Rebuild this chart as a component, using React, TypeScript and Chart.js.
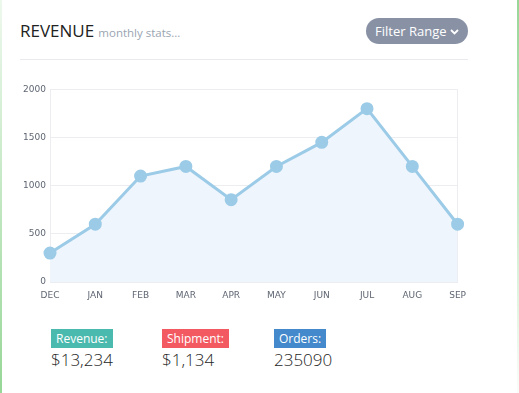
import React, { useEffect, useRef } from "react";
import { Chart, registerables } from "chart.js";

Chart.register(...registerables);

const months = ["DEC", "JAN", "FEB", "MAR", "APR", "MAY", "JUN", "JUL", "AUG", "SEP"];
const revenue = [300, 600, 1100, 1200, 855, 1200, 1450, 1800, 1200, 600];
const yTicks = [0, 500, 1000, 1500, 2000];
const statLabels = ["Revenue:", "Shipment:", "Orders:"];
const statValues = ["$13,234", "$1,134", "235090"];
const statColors = ["#4ab9ae", "#f35961", "#4389cb"];

const FONT = "'Open Sans', 'DejaVu Sans', sans-serif";
const TICK_FONT = "'DejaVu Sans', sans-serif";

function RevenueChart() {
  const ref = useRef<HTMLCanvasElement | null>(null);
  useEffect(() => {
    if (!ref.current) return;
    const chart = new Chart(ref.current, {
      type: "line",
      data: {
        labels: months,
        datasets: [
          {
            data: revenue,
            borderColor: "#9ccbe7",
            backgroundColor: "#eef5fd",
            pointBackgroundColor: "#9ccbe7",
            pointBorderColor: "#9ccbe7",
            pointRadius: 5,
            borderWidth: 3,
            fill: true,
            tension: 0,
          },
        ],
      },
      options: {
        animation: false,
        responsive: false,
        maintainAspectRatio: false,
        layout: { padding: { top: 2, right: 9, left: 0, bottom: 0 } },
        plugins: { legend: { display: false }, tooltip: { enabled: false } },
        scales: {
          x: {
            offset: false,
            grid: {
              color: (ctx: any) =>
                ctx.index === 0 || ctx.index === months.length - 1 ? "#ebedf0" : "rgba(0,0,0,0)",
              drawTicks: false,
            },
            border: { display: true, color: "#ebedf0" },
            ticks: {
              font: { family: TICK_FONT, size: 9 },
              color: "#5f6672",
              padding: 8,
              maxRotation: 0,
              autoSkip: false,
            },
            afterFit: (s: any) => {
              s.height = 20;
            },
          },
          y: {
            min: 0,
            max: 2000,
            afterBuildTicks: (s: any) => {
              s.ticks = yTicks.map((v) => ({ value: v }));
            },
            grid: { color: "#ebedf0", drawTicks: false },
            border: { display: true, color: "#ebedf0" },
            ticks: {
              font: { family: TICK_FONT, size: 9 },
              color: "#5f6672",
              padding: 4,
              callback: (v: any) => String(v),
            },
            afterFit: (s: any) => {
              s.width = 29;
            },
          },
        },
      },
    });
    return () => chart.destroy();
  }, []);
  return (
    <canvas
      ref={ref}
      width={453}
      height={222}
      style={{ position: "absolute", left: 21, top: 80, width: 453, height: 222 }}
    />
  );
}

export default function App() {
  return (
    <div
      style={{
        position: "fixed",
        left: 0,
        top: 0,
        width: 519,
        height: 393,
        background: "#fff",
        fontFamily: FONT,
        overflow: "hidden",
      }}
    >
      <div
        style={{
          position: "absolute",
          left: 0,
          top: 0,
          width: 2,
          height: 393,
          background: "linear-gradient(to bottom, rgba(140,210,140,0.15), rgba(140,210,140,0.9))",
        }}
      />
      <div
        style={{
          position: "absolute",
          left: 517,
          top: 0,
          width: 2,
          height: 393,
          background: "linear-gradient(to bottom, rgba(140,210,140,0.9), rgba(140,210,140,0.05))",
        }}
      />
      <div style={{ position: "absolute", left: 20, top: 20, whiteSpace: "nowrap", lineHeight: "22px" }}>
        <span style={{ fontSize: 17, color: "#222" }}>REVENUE</span>{" "}
        <span style={{ fontSize: 11.5, color: "#9aa5b1" }}>monthly stats...</span>
      </div>
      <div
        style={{
          position: "absolute",
          left: 366,
          top: 18,
          width: 102,
          height: 26,
          borderRadius: 13,
          background: "#8992a5",
          color: "#fff",
          fontSize: 13,
          lineHeight: "26px",
          textAlign: "center",
          whiteSpace: "nowrap",
        }}
      >
        Filter Range{" "}
        <svg width="9" height="6" viewBox="0 0 9 6" style={{ verticalAlign: "middle", marginTop: -2 }}>
          <path d="M1 1 L4.5 4.5 L8 1" stroke="#fff" strokeWidth="1.8" fill="none" />
        </svg>
      </div>
      <div style={{ position: "absolute", left: 20, top: 59, width: 448, height: 1, background: "#e8eaed" }} />
      <RevenueChart />
      {statLabels.map((lab, i) => {
        const lefts = [51, 162, 274];
        return (
          <div key={lab} style={{ position: "absolute", left: lefts[i], top: 326 }}>
            <div
              style={{
                display: "inline-block",
                background: statColors[i],
                color: "#fff",
                fontSize: 12,
                lineHeight: "19px",
                padding: "0 5px",
              }}
            >
              {lab}
            </div>
            <div style={{ fontSize: 17, color: "#262626", fontWeight: 300, lineHeight: "22px", marginTop: 1 }}>
              {statValues[i]}
            </div>
          </div>
        );
      })}
    </div>
  );
}
